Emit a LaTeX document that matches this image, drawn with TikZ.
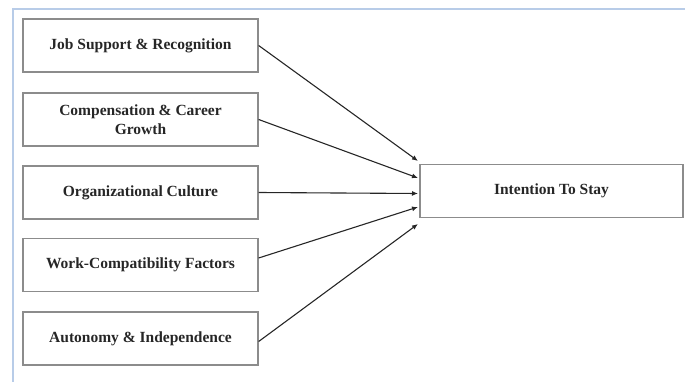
\documentclass[tikz,border=0pt]{standalone}
\usepackage{fontspec}
\setmainfont{Liberation Serif}
\usetikzlibrary{arrows.meta}
\definecolor{framebl}{RGB}{184,204,232}
\begin{document}
\begin{tikzpicture}[>={Latex[length=6pt,width=5pt]}, x=1pt, y=-1pt,
  factor/.style={draw=black!45, line width=1.3pt, minimum width=235pt, minimum height=53pt,
    align=center, inner sep=0pt, text=black!85, font=\fontsize{15.5}{19}\selectfont\bfseries},
  link/.style={->, line width=1.1pt, draw=black!85}]
\useasboundingbox (0,0) rectangle (685,382);
\draw[framebl, line width=2pt](13,382)--(13,9)--(685,9);
\node[factor] (jsr) at (140.5,45.5) {Job Support \& Recognition};
\node[factor] (ccg) at (140.5,119.5) {Compensation \& Career\\Growth};
\node[factor] (orc) at (140.5,192.5) {Organizational Culture};
\node[factor] (wcf) at (140.5,265) {Work-Compatibility Factors};
\node[factor] (aui) at (140.5,338.5) {Autonomy \& Independence};
\node[factor, minimum width=263pt] (its) at (551.5,191) {Intention To Stay};
\coordinate (e1) at (418,161);
\coordinate (e2) at (418,178);
\coordinate (e3) at (418,193.5);
\coordinate (e4) at (418,207);
\coordinate (e5) at (418,224);
\draw[link](jsr.east)--(e1);
\draw[link](ccg.east)--(e2);
\draw[link](orc.east)--(e3);
\draw[link]([yshift=7pt]wcf.east)--(e4);
\draw[link]([yshift=-3pt]aui.east)--(e5);
    \end{tikzpicture}
\end{document}
